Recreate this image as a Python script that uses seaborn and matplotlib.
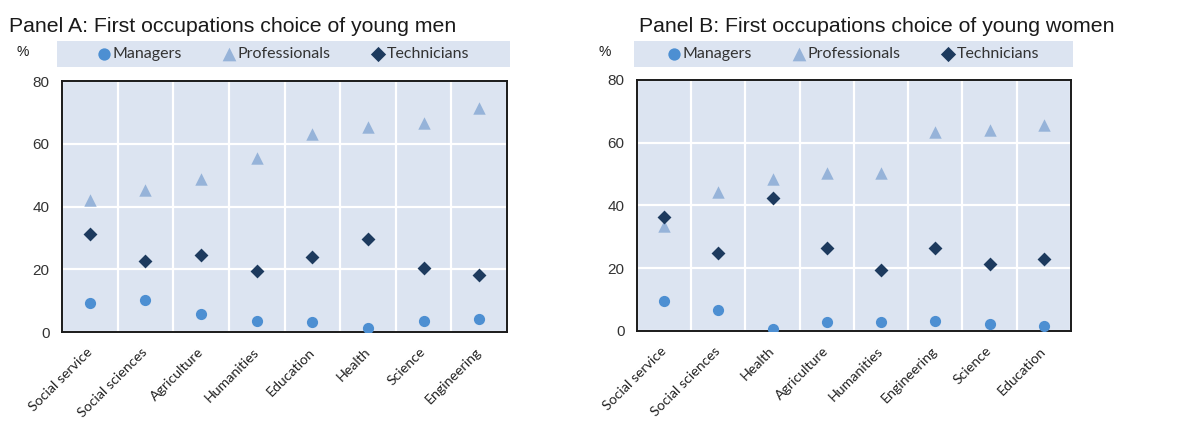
"""
First occupations choice of young men / women, by field of study.
Two dot-plot panels (Managers / Professionals / Technicians shares, %).
"""

import matplotlib.pyplot as plt
import pandas as pd
import seaborn as sns
from matplotlib.ticker import FixedLocator

# ==========================================
# DATA (%)
# ==========================================
SERIES = ["Managers", "Professionals", "Technicians"]

fields_men = ["Social service", "Social sciences", "Agriculture", "Humanities",
              "Education", "Health", "Science", "Engineering"]
managers_men = [9.2, 10.3, 5.8, 3.4, 3.2, 1.3, 3.5, 4.0]
professionals_men = [42.0, 45.2, 48.7, 55.3, 63.2, 65.4, 66.6, 71.4]
technicians_men = [31.3, 22.6, 24.4, 19.6, 23.8, 29.5, 20.5, 18.3]

fields_women = ["Social service", "Social sciences", "Health", "Agriculture",
                "Humanities", "Engineering", "Science", "Education"]
managers_women = [9.6, 6.6, 0.7, 2.8, 2.8, 3.2, 2.3, 1.7]
professionals_women = [33.6, 44.4, 48.6, 50.4, 50.4, 63.5, 64.0, 65.6]
technicians_women = [36.4, 24.7, 42.3, 26.6, 19.4, 26.6, 21.2, 23.1]

y_ticks = [0, 20, 40, 60, 80]

# ==========================================
# STYLE
# ==========================================
BG = "#dce4f1"
PALETTE = {"Managers": "#4d8fd2", "Professionals": "#96b3d9", "Technicians": "#1d3a5e"}
MARKERS = {"Managers": "o", "Professionals": "^", "Technicians": "D"}
SIZES = {"Managers": 65, "Professionals": 80, "Technicians": 50}

LABEL_FONT = ["Lato", "DejaVu Sans"]
NUM_FONT = ["Liberation Sans Narrow", "Liberation Sans", "DejaVu Sans"]
TITLE_FONT = ["Liberation Sans", "DejaVu Sans"]


def long_frame(fields, man, prof, tech):
    rows = []
    for name, vals in zip(SERIES, (man, prof, tech)):
        for f, v in zip(fields, vals):
            rows.append({"Field": f, "Share": v, "Group": name})
    return pd.DataFrame(rows)


def draw_panel(fig, ax_rect, leg_rect, title, title_x, pct_x, fields, man, prof, tech):
    df = long_frame(fields, man, prof, tech)

    ax = fig.add_axes(ax_rect)
    ax.set_facecolor(BG)
    ax.set_axisbelow(True)

    # draw in series order so diamonds sit on top of triangles
    for name in SERIES:
        sub = df[df["Group"] == name]
        sns.scatterplot(data=sub, x="Field", y="Share", ax=ax,
                        color=PALETTE[name], marker=MARKERS[name], s=SIZES[name],
                        linewidth=0, label=name, zorder=3)

    handles, labels = ax.get_legend_handles_labels()
    ax.get_legend().remove()

    n = len(fields)
    ax.set_xlim(-0.5, n - 0.5)
    ax.set_ylim(0, 80)
    ax.set_yticks(y_ticks)
    ax.set_xticks(range(n))
    ax.set_xticklabels(fields, rotation=45, ha="right", va="center",
                       rotation_mode="anchor", family=LABEL_FONT, fontsize=10.2,
                       color="#222222")
    ax.xaxis.set_minor_locator(FixedLocator([i - 0.5 for i in range(n + 1)]))
    ax.tick_params(axis="x", which="major", length=0, pad=13)
    ax.tick_params(axis="x", which="minor", length=5, width=1.3, color="#1a1a1a")
    ax.tick_params(axis="y", length=5, width=1.3, color="#1a1a1a", pad=4)
    for lab in ax.get_yticklabels():
        lab.set_family(NUM_FONT)
        lab.set_fontsize(11)
        lab.set_color("#333333")

    ax.grid(axis="y", which="major", color="white", linewidth=1.6)
    ax.grid(axis="x", which="minor", color="white", linewidth=1.6)
    ax.grid(axis="x", which="major", visible=False)
    for sp in ax.spines.values():
        sp.set_visible(True)
        sp.set_color("#1a1a1a")
        sp.set_linewidth(1.4)
    ax.set_xlabel("")
    ax.set_ylabel("")

    # legend band above the panel
    ax_leg = fig.add_axes(leg_rect)
    ax_leg.set_facecolor(BG)
    ax_leg.set_xticks([])
    ax_leg.set_yticks([])
    for sp in ax_leg.spines.values():
        sp.set_visible(False)
    ax_leg.legend(handles, labels, loc="center", ncol=3, frameon=False,
                  markerscale=1.1, handlelength=0.7, handletextpad=0.2,
                  columnspacing=2.6, borderaxespad=0,
                  prop={"family": LABEL_FONT, "size": 11.5}, labelcolor="#333333")

    fig.text(title_x, 0.937, title, family=TITLE_FONT, fontsize=15.3,
             color="#1a1a1a", ha="left", va="center")
    fig.text(pct_x, 0.876, "%", family=NUM_FONT, fontsize=10,
             color="#1a1a1a", ha="left", va="center")
    return ax


def main():
    sns.set_theme(style="white")
    fig = plt.figure(figsize=(11.86, 4.21), dpi=100)

    draw_panel(fig, [0.0523, 0.2114, 0.3752, 0.5962], [0.048, 0.841, 0.382, 0.062],
               "Panel A: First occupations choice of young men", 0.008, 0.014,
               fields_men, managers_men, professionals_men, technicians_men)
    draw_panel(fig, [0.5371, 0.2138, 0.3659, 0.5962], [0.5346, 0.841, 0.370, 0.062],
               "Panel B: First occupations choice of young women", 0.539, 0.505,
               fields_women, managers_women, professionals_women, technicians_women)

    fig.savefig("out.png", dpi=100)
    plt.close(fig)


if __name__ == "__main__":
    main()
